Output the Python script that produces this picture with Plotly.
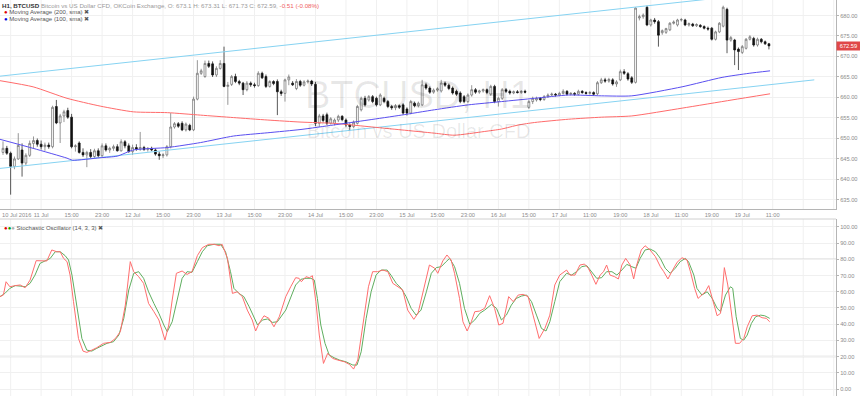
import plotly.graph_objects as go

# ---------------- DATA ----------------
bars = list(range(202))
opens = [646.6,647.6,646.4,643.2,645.0,647.2,644.0,645.9,648.8,649.5,648.6,648.0,648.4,648.0,657.8,653.8,655.5,656.8,655.2,648.0,
648.9,646.6,646.0,646.6,645.6,647.0,645.8,648.2,647.2,647.6,648.0,647.0,649.2,648.2,646.8,647.8,647.4,647.8,647.3,647.6,
647.2,646.2,645.8,646.0,648.0,652.8,653.6,653.7,652.1,653.2,652.1,659.6,665.9,665.1,668.3,668.2,665.5,667.1,668.3,662.7,
663.2,665.1,663.9,663.5,661.9,663.5,663.1,662.9,665.9,665.1,662.7,663.9,663.9,661.4,661.0,664.3,663.5,662.2,663.9,663.0,
663.8,664.0,663.2,653.7,655.5,655.8,653.7,653.7,654.5,655.4,654.5,653.3,652.9,653.7,657.0,659.8,659.4,660.2,659.8,658.2,
659.8,659.0,657.8,657.5,658.0,658.2,657.2,656.2,658.6,658.0,658.2,663.1,662.3,661.3,661.8,661.6,663.5,663.0,662.3,661.5,
661.1,660.2,659.0,660.6,661.9,661.3,661.6,661.9,660.8,662.7,659.0,659.8,661.9,661.5,661.1,661.4,661.2,661.5,657.6,659.0,
659.4,659.8,659.5,660.2,660.6,660.8,660.6,661.0,661.5,660.8,661.0,660.8,661.5,661.2,661.0,661.2,660.9,663.6,664.3,664.0,
664.3,663.3,664.3,666.3,665.8,664.8,663.7,679.4,679.7,682.0,677.7,678.9,678.5,675.8,675.9,676.5,678.1,677.7,678.9,678.9,
677.7,677.9,677.5,677.6,677.3,676.9,676.9,674.2,676.0,677.4,681.5,674.0,674.0,671.8,671.0,672.0,674.2,674.4,672.8,674.2,
673.6,673.1]
highs = [649.3,648.2,646.8,645.6,651.3,648.8,646.4,649.5,650.5,650.0,649.5,649.0,649.0,658.0,659.4,656.0,657.0,657.5,656.0,648.6,
649.3,647.6,647.0,647.4,647.5,647.6,648.8,648.8,648.0,648.5,648.6,649.8,649.6,648.8,648.5,648.6,651.6,648.2,647.9,648.0,
647.6,646.8,646.4,648.4,656.2,654.0,654.0,654.2,653.9,653.6,660.2,669.1,667.0,669.0,669.0,668.8,667.6,669.1,672.4,663.8,
665.5,665.8,664.3,663.8,664.0,663.9,663.6,666.4,666.3,665.6,664.2,664.2,664.4,661.9,664.6,665.6,664.0,664.5,664.3,664.2,
664.4,664.3,663.8,656.0,656.0,656.3,655.2,654.9,655.8,655.7,654.9,653.7,654.4,658.2,660.2,660.4,660.6,660.6,660.2,661.0,
660.2,659.4,658.2,658.4,658.3,658.6,657.6,659.4,659.0,659.0,664.3,663.6,662.7,662.2,662.5,664.3,663.9,663.4,662.7,661.9,
661.5,660.6,661.0,663.0,662.3,661.9,662.2,662.2,663.1,663.1,660.2,662.3,662.3,661.9,661.7,661.8,661.8,661.9,659.4,660.2,
660.2,660.1,660.6,661.0,661.2,661.1,661.4,662.0,661.8,661.3,661.3,661.9,661.8,661.5,661.6,661.5,664.0,664.8,664.8,664.8,
664.7,664.2,666.8,666.9,666.2,665.2,682.0,680.2,680.5,682.4,679.2,679.4,678.9,676.6,677.0,678.4,678.8,679.2,679.4,679.2,
678.3,678.2,678.1,677.9,677.6,677.3,677.2,676.3,678.4,682.4,681.9,675.0,674.3,672.2,672.8,674.5,675.2,674.8,674.6,674.5,
673.9,673.31]
lows = [646.0,646.0,636.3,642.5,644.8,640.7,643.5,645.5,647.5,648.0,647.3,647.0,647.5,647.6,653.5,648.9,654.0,654.8,647.6,646.8,
646.3,645.5,643.0,645.0,645.0,645.3,645.5,646.8,646.5,647.0,646.8,646.8,647.6,646.5,646.0,647.0,647.0,647.0,646.8,646.9,
645.8,644.8,645.2,645.6,647.6,652.4,652.6,651.8,651.7,651.8,651.8,659.3,665.5,664.8,667.2,665.0,665.0,666.8,662.5,658.2,
662.8,663.5,663.0,660.6,661.5,662.6,662.4,662.6,664.5,662.3,662.4,663.0,655.7,660.4,659.0,663.0,662.8,661.8,662.6,662.7,
663.4,662.8,653.0,652.8,653.9,653.3,653.4,653.2,654.0,654.2,652.8,652.1,652.6,653.4,656.6,657.8,659.0,658.6,657.8,657.9,
658.6,657.4,657.0,656.9,657.2,655.8,655.6,655.9,657.6,657.6,657.9,661.9,660.9,660.9,661.4,661.2,662.6,661.8,660.7,660.4,
658.6,658.6,658.6,660.2,660.9,660.9,661.2,660.8,660.4,658.6,657.8,659.4,661.1,660.7,660.8,661.0,660.9,661.0,657.2,658.4,
659.0,659.1,659.2,659.9,660.3,660.2,660.3,660.7,660.5,660.5,660.4,660.5,660.9,660.7,660.7,660.4,660.6,663.3,663.6,663.6,
662.9,662.6,664.0,665.5,664.1,663.3,663.4,678.8,679.2,677.4,677.3,678.0,672.4,675.3,675.5,676.2,677.8,677.3,678.5,677.4,
677.3,677.2,677.2,677.0,676.6,676.3,673.9,673.9,675.7,677.1,670.8,673.6,667.9,666.7,670.6,671.7,673.9,672.4,672.4,673.2,
672.8,671.73]
closes = [647.6,646.4,643.2,645.0,648.3,644.0,645.9,648.8,649.5,648.6,648.0,648.4,648.0,657.6,653.8,655.5,656.5,655.2,648.0,648.2,
646.6,646.0,646.6,645.6,647.0,645.8,648.2,647.2,647.6,648.0,647.0,649.2,648.2,646.8,647.8,647.4,647.8,647.3,647.6,647.2,
646.2,645.8,646.0,648.0,652.8,653.6,653.0,652.1,653.5,652.1,659.6,665.9,666.5,668.3,667.6,665.5,667.1,668.3,662.7,663.0,
665.1,663.9,663.5,661.9,663.5,663.1,662.9,665.9,664.8,662.7,663.9,663.4,661.4,661.0,664.3,665.0,663.1,663.9,663.0,663.8,
664.0,663.3,653.7,655.5,654.4,653.7,654.8,654.5,655.4,654.6,653.3,652.9,654.0,657.8,659.8,658.2,660.2,659.0,658.2,660.6,
659.0,657.8,657.5,658.0,657.6,656.2,656.2,659.0,658.0,658.6,663.1,662.3,661.3,661.8,662.1,663.5,663.0,662.2,661.1,660.8,
659.0,659.0,660.6,661.9,661.3,661.6,661.9,661.2,662.7,659.0,659.8,661.9,661.5,661.1,661.4,661.2,661.5,661.3,659.0,659.8,
659.8,659.5,660.2,660.6,660.8,660.6,661.0,661.5,660.8,661.0,660.8,661.5,661.2,661.0,661.2,660.8,663.6,664.3,664.0,664.4,
663.3,663.8,666.3,665.9,664.5,663.7,681.8,679.7,680.1,677.7,678.9,678.5,675.2,676.3,676.8,678.1,678.4,678.9,679.0,677.7,
678.0,677.5,677.8,677.3,676.9,676.7,674.2,676.0,678.1,682.0,674.0,674.6,671.6,671.2,672.4,674.2,674.8,672.8,674.2,673.6,
673.1,672.59]

ma200_bar = [-0.8,7.9,16.8,25.5,34.2,43.2,51.8,60.5,69.5,78.2,86.8,95.8,104.5,113.2,118.4,126.3,130.8,135.3,139.5,148.4,157.1,165.0,178.2,191.3,201.3]
ma200_val = [664.1,662.6,659.8,657.9,656.5,656.3,655.7,655.1,654.5,654.0,653.7,652.9,652.1,651.3,650.8,651.7,652.3,653.3,653.9,654.7,655.2,655.5,657.4,659.4,660.9]
ma100_bar = [-0.8,7.9,16.8,18.2,25.5,30.0,34.2,43.2,51.8,60.5,69.5,78.2,86.8,95.8,104.5,113.2,122.1,130.8,139.5,148.4,157.1,165.0,178.2,188.7,195.8,201.3]
ma100_val = [649.8,647.6,645.2,644.7,645.3,645.7,647.2,647.8,649.0,650.6,651.4,652.2,653.3,654.5,655.7,657.0,658.2,659.0,659.8,660.6,660.4,660.4,662.6,664.9,665.9,666.5]

chan_bar = [-0.8, 212.9]
chan_upper = [665.2, 686.8]
chan_lower = [642.7, 664.3]

k_bar = [-0.8,0.1,0.8,1.8,3.2,4.5,5.8,7.1,8.7,10.2,11.5,12.8,14.1,15.0,15.9,16.8,17.6,18.5,19.8,21.0,22.0,23.3,24.6,26.4,28.2,29.5,30.8,32.1,33.4,34.3,
35.6,36.9,38.2,39.6,40.9,42.5,43.5,44.4,45.5,47.0,48.3,49.6,51.0,52.3,54.0,55.4,56.7,57.5,58.9,60.2,61.5,62.8,64.1,65.4,66.3,67.2,68.5,69.8,71.1,72.5,
74.2,75.5,76.8,77.7,78.3,79.5,80.4,81.2,82.1,83.0,84.1,85.2,86.5,87.8,89.6,90.9,92.0,93.1,94.4,95.9,97.0,98.3,99.7,101.0,102.3,103.6,104.9,106.2,107.8,108.9,
110.4,111.9,113.3,114.1,115.4,116.5,117.6,118.5,119.8,120.7,121.8,122.9,123.8,125.1,126.4,127.7,129.0,130.1,131.2,132.7,133.9,135.2,136.5,137.8,139.1,140.7,142.2,143.5,144.8,146.1,
147.9,148.8,150.1,151.4,152.6,153.6,154.5,155.6,156.7,157.6,158.4,159.3,160.5,161.5,162.4,163.4,164.6,165.5,166.3,167.5,168.5,169.8,171.2,172.5,173.4,174.5,175.5,176.9,178.2,179.5,
180.4,181.5,182.4,183.4,184.3,185.2,186.1,187.4,188.3,189.3,190.2,191.3,192.2,193.3,194.4,195.3,196.6,197.9,199.2,200.3,201.2]
k_val = [57.0,58.0,66.2,63.1,63.8,64.2,62.5,67.2,79.2,79.0,79.0,85.8,84.7,84.7,80.6,78.6,70.3,53.9,31.2,23.4,22.6,24.0,25.5,28.2,28.8,31.2,35.4,51.8,78.6,72.4,
69.3,65.2,52.8,47.7,42.6,30.2,39.5,54.9,71.4,72.8,70.7,72.4,82.3,87.2,89.3,89.3,88.4,89.3,80.6,59.0,60.0,57.0,48.7,42.6,35.8,40.5,45.2,43.6,38.4,44.6,
57.0,63.1,68.7,68.3,66.2,69.3,68.7,69.9,53.9,33.3,15.8,22.0,18.9,17.9,16.8,15.2,12.3,17.9,39.5,63.1,72.4,72.4,73.4,72.4,65.2,63.1,61.1,48.7,43.0,46.7,
62.1,76.5,74.5,71.4,79.0,82.7,79.6,71.4,55.9,41.5,35.8,41.5,47.7,48.1,49.8,57.6,49.8,39.5,40.5,57.0,53.9,58.0,58.4,57.0,45.6,31.2,37.4,45.6,64.2,70.3,
73.4,70.3,70.3,76.5,77.1,74.5,70.3,64.6,70.3,72.4,76.5,70.3,69.3,67.9,76.5,80.6,76.5,67.9,76.5,85.8,88.4,85.8,81.7,75.5,72.4,67.9,72.4,78.2,81.0,79.6,
72.4,62.1,55.9,58.0,60.0,63.8,55.9,45.2,46.7,74.9,64.2,45.6,28.2,28.2,31.2,38.4,45.2,45.6,44.0,43.6,41.5]

d_bar = [-0.8,0.5,1.8,3.2,4.5,5.8,7.1,8.4,9.7,11.0,12.4,13.7,15.0,16.3,17.2,18.1,19.4,20.7,22.0,23.3,24.6,26.0,27.3,29.0,30.4,31.7,33.0,34.3,35.6,36.9,
38.2,39.6,40.9,42.2,43.1,44.4,45.7,47.0,48.3,49.6,51.0,52.3,53.6,55.4,57.1,58.4,59.7,60.6,61.9,63.2,64.6,65.9,66.8,68.1,69.4,70.7,72.0,
74.2,75.5,76.8,78.2,79.5,80.8,81.7,82.5,83.4,84.5,85.6,86.9,88.3,90.0,91.8,92.9,94.0,95.3,96.6,97.9,99.2,100.8,101.8,103.2,104.5,105.8,107.1,108.4,109.7,111.1,
112.4,113.7,115.0,116.3,117.2,118.5,119.8,121.1,122.5,123.8,125.1,126.4,128.2,129.5,130.8,132.1,133.4,134.7,136.1,137.4,138.7,140.0,141.3,142.5,143.5,144.8,146.1,
147.9,149.2,150.5,151.9,153.2,154.5,155.8,157.1,158.4,159.8,161.1,162.4,163.7,165.0,166.1,167.2,168.5,169.8,171.2,172.5,173.8,175.1,176.4,177.7,179.1,179.9,
181.3,182.1,183.4,184.8,186.1,187.4,188.3,189.6,190.9,191.5,192.4,193.5,194.4,195.3,196.4,197.5,198.8,199.9,201.2]
d_val = [57.0,59.0,62.1,63.8,63.5,63.1,65.2,70.3,77.5,79.0,80.6,84.7,84.7,82.3,79.6,70.3,49.8,31.2,24.0,23.4,25.1,26.7,28.2,29.2,33.3,43.6,61.1,71.4,72.4,68.3,
60.0,52.8,46.7,39.5,35.4,41.5,55.9,68.3,72.4,72.0,78.6,84.7,88.4,89.3,89.3,84.7,72.4,62.1,59.0,57.0,50.8,44.6,39.5,42.6,43.2,41.1,41.5,
48.7,57.0,64.2,67.7,68.3,68.3,67.2,55.9,39.5,28.2,21.0,19.3,17.9,16.8,14.8,14.8,23.0,43.6,60.0,70.3,73.4,73.4,70.3,65.2,62.1,57.0,49.8,45.6,48.7,60.0,
71.4,74.9,75.5,78.6,80.6,75.5,65.2,49.8,39.9,42.6,46.7,48.7,52.2,49.8,42.6,45.6,51.8,55.9,57.4,58.0,53.9,45.6,37.4,35.8,41.5,53.9,66.2,
71.4,70.3,72.4,75.5,76.1,72.4,68.3,68.7,72.4,72.4,70.3,73.4,76.9,75.5,74.5,80.6,85.8,86.4,84.7,80.6,74.5,71.4,74.5,78.6,80.6,78.6,
70.3,62.1,58.0,60.0,55.9,49.8,47.7,58.0,63.1,62.1,44.6,31.2,30.2,33.3,40.5,44.6,45.6,45.2,43.6]

tick_bars = [3.6,10,18,26,34,42,50,58,66,74,82,90,98,106,114,122,130,138,146,154,162,170,178,186,194,202]
tick_text = ["10 Jul 2016","11 Jul","15:00","23:00","12 Jul","15:00","23:00","13 Jul","15:00","23:00","14 Jul","15:00","23:00",
             "15 Jul","15:00","23:00","16 Jul","15:00","17 Jul","11:00","19:00","18 Jul","11:00","19:00","19 Jul","11:00"]
grid_bars = [2,10,18,26,34,42,50,58,66,74,82,90,98,106,114,122,130,138,146,154,162,170,178,186,194,202,210,218]
price_ticks = [635,640,645,650,655,660,665,670,675,680]
stoch_ticks = [0,10,20,30,40,50,60,70,80,90,100]
last_price = 672.59

# ---------------- FIGURE ----------------
W, H = 860, 396
FONT = "Liberation Sans, Arial, sans-serif"
fig = go.Figure()

fig.add_trace(go.Scatter(x=chan_bar, y=chan_upper, mode="lines", line=dict(color="#86d3f2", width=1), xaxis="x", yaxis="y", hoverinfo="skip"))
fig.add_trace(go.Scatter(x=chan_bar, y=chan_lower, mode="lines", line=dict(color="#86d3f2", width=1), xaxis="x", yaxis="y", hoverinfo="skip"))
fig.add_trace(go.Scatter(x=ma200_bar, y=ma200_val, mode="lines", line=dict(color="#ff6b6b", width=1, shape="spline", smoothing=0.6), xaxis="x", yaxis="y"))
fig.add_trace(go.Scatter(x=ma100_bar, y=ma100_val, mode="lines", line=dict(color="#5a4ff0", width=1, shape="spline", smoothing=0.6), xaxis="x", yaxis="y"))
fig.add_trace(go.Candlestick(x=bars, open=opens, high=highs, low=lows, close=closes,
    increasing=dict(line=dict(color="#6a6a6a", width=0.7), fillcolor="#ffffff"),
    decreasing=dict(line=dict(color="#111111", width=0.7), fillcolor="#111111"),
    whiskerwidth=0, xaxis="x", yaxis="y"))
fig.add_trace(go.Scatter(x=d_bar, y=d_val, mode="lines", line=dict(color="#5fae5f", width=1), xaxis="x2", yaxis="y2"))
fig.add_trace(go.Scatter(x=k_bar, y=k_val, mode="lines", line=dict(color="#ff6e6e", width=1), xaxis="x2", yaxis="y2"))

top_pane_bottom = 209
stoch_top = 219
y1_dom = [1 - top_pane_bottom / H, 1]
y2_dom = [0, 1 - stoch_top / H]
xr = [-0.79, 218.6]
grid_c = "#f0f0f0"
axis_c = "#b5b5b5"
tick_font = dict(family=FONT, size=5.7, color="#8c8c8c")

fig.update_layout(
    width=W, height=H, margin=dict(l=0, r=24, t=0, b=0, autoexpand=False),
    paper_bgcolor="white", plot_bgcolor="white", showlegend=False, hovermode=False,
    xaxis=dict(domain=[0, 1], range=xr, anchor="y", tickmode="array", tickvals=tick_bars, ticktext=tick_text,
               tickangle=0, showgrid=False, zeroline=False, showline=True, linecolor=axis_c, linewidth=1,
               ticks="", tickfont=tick_font, rangeslider=dict(visible=False), fixedrange=True),
    xaxis2=dict(domain=[0, 1], range=xr, anchor="y2", matches="x", tickmode="array", tickvals=grid_bars,
                showticklabels=False, showgrid=False, zeroline=False, showline=False),
    yaxis=dict(domain=y1_dom, range=[632.8, 683.78], side="right", tickmode="array", tickvals=price_ticks,
               ticktext=[f"{v:.2f}" for v in price_ticks], showgrid=True, gridcolor=grid_c, gridwidth=1,
               zeroline=False, showline=True, linecolor=axis_c, ticks="outside", ticklen=2, tickcolor=axis_c,
               tickfont=tick_font, anchor="x"),
    yaxis2=dict(domain=y2_dom, range=[-4.3, 104.9], side="right", tickmode="array", tickvals=stoch_ticks,
                ticktext=[f"{v:.2f}" for v in stoch_ticks], showgrid=True, gridcolor=grid_c, gridwidth=1,
                zeroline=False, showline=True, linecolor=axis_c, ticks="outside", ticklen=2, tickcolor=axis_c,
                tickfont=tick_font, anchor="x2"),
)

shapes = []
for gb in grid_bars:
    shapes.append(dict(type="line", xref="x", yref="paper", x0=gb, x1=gb, y0=y1_dom[0], y1=1,
                       line=dict(color=grid_c, width=1), layer="below"))
    shapes.append(dict(type="line", xref="x2", yref="paper", x0=gb, x1=gb, y0=0, y1=y2_dom[1],
                       line=dict(color=grid_c, width=1), layer="below"))
for lv in (80, 20):
    shapes.append(dict(type="line", xref="paper", yref="y2", x0=0, x1=1, y0=lv, y1=lv,
                       line=dict(color="#d5d5d5", width=1.5), layer="below"))
shapes.append(dict(type="line", xref="paper", yref="paper", x0=0, x1=1, y0=y2_dom[1], y1=y2_dom[1],
                   line=dict(color="#d0d0d0", width=1)))
fig.update_layout(shapes=shapes)

ann = []
ann.append(dict(xref="paper", yref="paper", x=0.0, y=1.0, xanchor="left", yanchor="top", showarrow=False,
                text="<b>H1, BTCUSD</b> <span style='color:#9a9a9a'>Bitcoin vs US Dollar CFD, OKCoin Exchange, O: 673.1 H: 673.31 L: 671.73 C: 672.59,</span> <span style='color:#ef6161'>-0.51 (-0.08%)</span>",
                font=dict(family=FONT, size=6.2, color="#333333")))
ann.append(dict(xref="paper", yref="paper", x=0.002, y=1 - 11.5 / H, xanchor="left", yanchor="middle", showarrow=False,
                text="<span style='color:#e00000'>●</span> Moving Average (200, sma) ✖",
                font=dict(family=FONT, size=6, color="#555555")))
ann.append(dict(xref="paper", yref="paper", x=0.002, y=1 - 19.5 / H, xanchor="left", yanchor="middle", showarrow=False,
                text="<span style='color:#0000e0'>●</span> Moving Average (100, sma) ✖",
                font=dict(family=FONT, size=6, color="#555555")))
ann.append(dict(xref="paper", yref="paper", x=0.002, y=1 - 228 / H, xanchor="left", yanchor="middle", showarrow=False,
                text="<span style='color:#e00000'>●</span><span style='color:#00a000'>●</span><span style='color:#b0b0b0'>●</span> Stochastic Oscillator (14, 3, 3) ✖",
                font=dict(family=FONT, size=6, color="#555555")))
ann.append(dict(xref="paper", yref="paper", x=0.5, y=1 - 95 / H, xanchor="center", yanchor="middle", showarrow=False,
                text="BTCUSD, H1", font=dict(family=FONT, size=38, color="rgba(0,0,0,0.09)")))
ann.append(dict(xref="paper", yref="paper", x=0.5, y=1 - 131 / H, xanchor="center", yanchor="middle", showarrow=False,
                text="Bitcoin vs US Dollar CFD", font=dict(family=FONT, size=20, color="rgba(0,0,0,0.09)")))
ann.append(dict(xref="paper", yref="y", x=1.0, y=last_price, xanchor="left", yanchor="middle", showarrow=False,
                text="672.59", bgcolor="#e04848", borderpad=1, width=21,
                font=dict(family=FONT, size=5.7, color="white")))
fig.update_layout(annotations=ann)

fig.write_html("out.html", config={"displayModeBar": False, "staticPlot": True},
               post_script="document.body.style.margin='0';document.body.style.overflow='hidden';")
